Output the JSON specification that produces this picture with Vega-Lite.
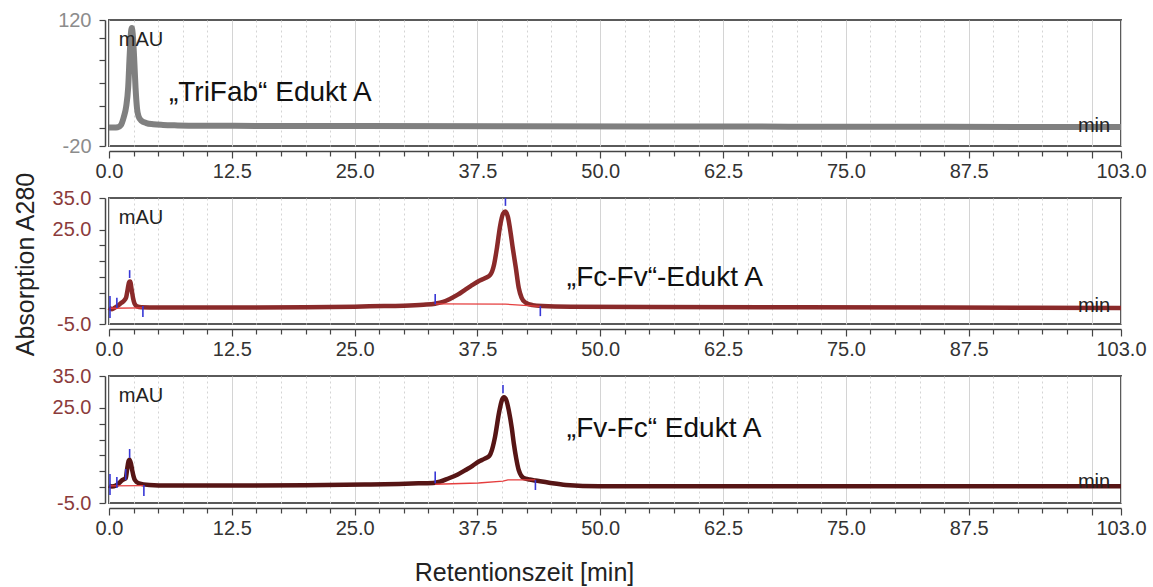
{
  "$schema": "https://vega.github.io/schema/vega-lite/v6.json",
  "background": "white",
  "padding": {"left": 12, "top": 9, "right": 5, "bottom": 0},
  "bounds": "flush",
  "spacing": 52,
  "config": {
    "view": {"stroke": "#5a5a5a", "strokeWidth": 2},
    "font": "Liberation Sans",
    "axis": {
      "labelFont": "Liberation Sans",
      "labelFontSize": 20,
      "titleFont": "Liberation Sans",
      "titleFontWeight": "normal",
      "titleFontSize": 25,
      "titleColor": "#222222",
      "domainColor": "#444444",
      "domainWidth": 1.5,
      "tickColor": "#444444",
      "tickWidth": 1.2,
      "labelFlush": false
    },
    "text": {"font": "Liberation Sans"}
  },
  "vconcat": [
    {
      "width": 1012,
      "height": 126,
      "data": {"values": [
        {"t": 0, "v": 0.5}, {"t": 0.5, "v": 0.5}, {"t": 0.9, "v": 0.8}, {"t": 1.2, "v": 3}, {"t": 1.5, "v": 12},
        {"t": 1.75, "v": 24}, {"t": 1.95, "v": 45}, {"t": 2.1, "v": 80}, {"t": 2.22, "v": 104}, {"t": 2.32, "v": 111},
        {"t": 2.42, "v": 104}, {"t": 2.55, "v": 80}, {"t": 2.7, "v": 45}, {"t": 2.85, "v": 22}, {"t": 3.0, "v": 13},
        {"t": 3.3, "v": 8}, {"t": 3.8, "v": 5.5}, {"t": 4.5, "v": 4.2}, {"t": 5.5, "v": 3.4}, {"t": 7, "v": 2.9},
        {"t": 10, "v": 2.5}, {"t": 15, "v": 2.3}, {"t": 25, "v": 2.1}, {"t": 40, "v": 1.9}, {"t": 55, "v": 1.7},
        {"t": 70, "v": 1.5}, {"t": 85, "v": 1.3}, {"t": 95, "v": 1.1}, {"t": 103, "v": 1.0}
      ]},
      "encoding": {
        "x": {
          "field": "t", "type": "quantitative",
          "scale": {"domain": [0, 103], "nice": false, "zero": false},
          "axis": {
            "title": null, "offset": 5, "format": ".1f", "labelColor": "#333333", "labelPadding": 3,
            "values": [0,2.5,5,7.5,10,12.5,15,17.5,20,22.5,25,27.5,30,32.5,35,37.5,40,42.5,45,47.5,50,52.5,55,57.5,60,62.5,65,67.5,70,72.5,75,77.5,80,82.5,85,87.5,90,92.5,95,97.5,100,103],
            "labelExpr": "(datum.value % 12.5 === 0 && datum.value < 100) || datum.value === 103 ? datum.label : ''",
            "grid": true, "gridColor": "#d4d4d4", "gridWidth": 1,
            "gridDash": {"condition": {"test": "datum.value % 12.5 === 0 || datum.value >= 100", "value": []}, "value": [2, 3]},
            "tickSize": {"condition": {"test": "datum.value % 12.5 === 0 || datum.value >= 100", "value": 7}, "value": 5}
          }
        },
        "y": {
          "field": "v", "type": "quantitative",
          "scale": {"domain": [-20, 120], "nice": false, "zero": false},
          "axis": {
            "title": null, "offset": 4, "grid": false, "tickSize": 6, "labelPadding": 8, "labelColor": "#8c8c8c",
            "values": [-20, 0, 25, 50, 75, 100, 120], "format": "d",
            "labelExpr": "datum.value === 120 ? '120' : datum.value === -20 ? '-20' : ''"
          }
        }
      },
      "layer": [
        {"mark": {"type": "line", "color": "#808080", "strokeWidth": 6, "interpolate": "monotone"}, "encoding": {}},
        {
          "data": {"values": [{"t": 1.0, "v": 91, "label": "mAU"}]},
          "mark": {"type": "text", "align": "left", "baseline": "alphabetic", "fontSize": 20, "color": "#222222"},
          "encoding": {"text": {"field": "label"}}
        },
        {
          "data": {"values": [{"t": 101.9, "v": -4.4, "label": "min"}]},
          "mark": {"type": "text", "align": "right", "baseline": "alphabetic", "fontSize": 20, "color": "#222222"},
          "encoding": {"text": {"field": "label"}}
        },
        {
          "data": {"values": [{"t": 6.1, "v": 30, "label": "„TriFab“ Edukt A"}]},
          "mark": {"type": "text", "align": "left", "baseline": "alphabetic", "fontSize": 28, "color": "#111111"},
          "encoding": {"text": {"field": "label"}}
        }
      ]
    },
    {
      "width": 1012,
      "height": 126,
      "data": {"values": [
        {"t": 0, "v": 0.2}, {"t": 0.3, "v": -0.3}, {"t": 0.6, "v": 0.2}, {"t": 0.9, "v": 0.8}, {"t": 1.2, "v": 1.6},
        {"t": 1.5, "v": 2.3}, {"t": 1.75, "v": 3.5}, {"t": 1.9, "v": 6}, {"t": 2.05, "v": 8.3}, {"t": 2.15, "v": 8.5},
        {"t": 2.3, "v": 6}, {"t": 2.45, "v": 3.2}, {"t": 2.6, "v": 1.5}, {"t": 2.85, "v": 0.6}, {"t": 3.3, "v": 0.3},
        {"t": 5, "v": 0.2}, {"t": 10, "v": 0.2}, {"t": 15, "v": 0.2}, {"t": 20, "v": 0.3}, {"t": 25, "v": 0.5},
        {"t": 28, "v": 0.7}, {"t": 30, "v": 0.8}, {"t": 32, "v": 1.1}, {"t": 33.2, "v": 1.45}, {"t": 34, "v": 2},
        {"t": 34.6, "v": 2.8}, {"t": 35.5, "v": 4.3}, {"t": 36.3, "v": 6}, {"t": 37, "v": 7.4}, {"t": 37.6, "v": 8.6},
        {"t": 38.3, "v": 9.6}, {"t": 38.8, "v": 10.6}, {"t": 39.2, "v": 14}, {"t": 39.5, "v": 19.5}, {"t": 39.8, "v": 26},
        {"t": 40.1, "v": 30}, {"t": 40.35, "v": 30.7}, {"t": 40.6, "v": 29}, {"t": 40.85, "v": 24.5}, {"t": 41.1, "v": 19},
        {"t": 41.4, "v": 13}, {"t": 41.7, "v": 6.5}, {"t": 42, "v": 3.3}, {"t": 42.4, "v": 1.8}, {"t": 43.1, "v": 1.0},
        {"t": 44.1, "v": 0.7}, {"t": 47, "v": 0.5}, {"t": 55, "v": 0.4}, {"t": 70, "v": 0.3}, {"t": 85, "v": 0.2},
        {"t": 103, "v": 0.1}
      ]},
      "encoding": {
        "x": {
          "field": "t", "type": "quantitative",
          "scale": {"domain": [0, 103], "nice": false, "zero": false},
          "axis": {
            "title": null, "offset": 5, "format": ".1f", "labelColor": "#333333", "labelPadding": 3,
            "values": [0,2.5,5,7.5,10,12.5,15,17.5,20,22.5,25,27.5,30,32.5,35,37.5,40,42.5,45,47.5,50,52.5,55,57.5,60,62.5,65,67.5,70,72.5,75,77.5,80,82.5,85,87.5,90,92.5,95,97.5,100,103],
            "labelExpr": "(datum.value % 12.5 === 0 && datum.value < 100) || datum.value === 103 ? datum.label : ''",
            "grid": true, "gridColor": "#d4d4d4", "gridWidth": 1,
            "gridDash": {"condition": {"test": "datum.value % 12.5 === 0 || datum.value >= 100", "value": []}, "value": [2, 3]},
            "tickSize": {"condition": {"test": "datum.value % 12.5 === 0 || datum.value >= 100", "value": 7}, "value": 5}
          }
        },
        "y": {
          "field": "v", "type": "quantitative",
          "scale": {"domain": [-5, 35], "nice": false, "zero": false},
          "axis": {
            "title": "Absorption A280", "titlePadding": 14, "titleY": 66,
            "offset": 4, "grid": false, "tickSize": 6, "labelPadding": 8, "labelColor": "#8b3b3b",
            "values": [-5, 0, 5, 10, 15, 20, 25, 35], "format": ".1f",
            "labelExpr": "datum.value === 35 ? '35.0' : datum.value === 25 ? '25.0' : datum.value === -5 ? '-5.0' : ''"
          }
        }
      },
      "layer": [
        {"mark": {"type": "line", "color": "#8a2a2a", "strokeWidth": 4.5, "interpolate": "monotone"}, "encoding": {}},
        {
          "data": {"values": [
            {"seg": "a", "t": 0.1, "v": 0.0}, {"seg": "a", "t": 3.45, "v": 0.1},
            {"seg": "b", "t": 33.2, "v": 1.4}, {"seg": "b", "t": 40.35, "v": 1.3}, {"seg": "b", "t": 43.9, "v": 0.6}
          ]},
          "mark": {"type": "line", "color": "#e53e3e", "strokeWidth": 1.3},
          "encoding": {"detail": {"field": "seg"}}
        },
        {
          "data": {"values": [
            {"t": 0.1, "v": 3.9, "v2": -3.1}, {"t": 0.8, "v": 3.3, "v2": 0.1}, {"t": 2.1, "v": 12.1, "v2": 9.6},
            {"t": 3.45, "v": 0.7, "v2": -2.8}, {"t": 33.2, "v": 4.5, "v2": 1.3}, {"t": 40.35, "v": 35, "v2": 32.5},
            {"t": 43.9, "v": 0.7, "v2": -2.5}
          ]},
          "mark": {"type": "rule", "color": "#3838d6", "strokeWidth": 1.6},
          "encoding": {"y2": {"field": "v2"}}
        },
        {
          "data": {"values": [{"t": 1.0, "v": 26.7, "label": "mAU"}]},
          "mark": {"type": "text", "align": "left", "baseline": "alphabetic", "fontSize": 20, "color": "#222222"},
          "encoding": {"text": {"field": "label"}}
        },
        {
          "data": {"values": [{"t": 101.9, "v": -1.2, "label": "min"}]},
          "mark": {"type": "text", "align": "right", "baseline": "alphabetic", "fontSize": 20, "color": "#222222"},
          "encoding": {"text": {"field": "label"}}
        },
        {
          "data": {"values": [{"t": 46.6, "v": 7.1, "label": "„Fc-Fv“-Edukt A"}]},
          "mark": {"type": "text", "align": "left", "baseline": "alphabetic", "fontSize": 28, "color": "#111111"},
          "encoding": {"text": {"field": "label"}}
        }
      ]
    },
    {
      "width": 1012,
      "height": 127,
      "data": {"values": [
        {"t": 0, "v": 0.5}, {"t": 0.3, "v": 0.2}, {"t": 0.7, "v": 0.5}, {"t": 1.0, "v": 1.2}, {"t": 1.35, "v": 2.2},
        {"t": 1.7, "v": 2.8}, {"t": 1.86, "v": 6}, {"t": 2.0, "v": 8.3}, {"t": 2.1, "v": 8.6}, {"t": 2.25, "v": 7.2},
        {"t": 2.37, "v": 5.2}, {"t": 2.5, "v": 3.4}, {"t": 2.64, "v": 2.2}, {"t": 3.05, "v": 1.2}, {"t": 4.1, "v": 0.7},
        {"t": 6, "v": 0.5}, {"t": 12, "v": 0.5}, {"t": 20, "v": 0.6}, {"t": 26, "v": 0.8}, {"t": 29.5, "v": 1.0},
        {"t": 31.5, "v": 1.2}, {"t": 33.2, "v": 1.4}, {"t": 34.6, "v": 2.8}, {"t": 35.5, "v": 4}, {"t": 36.3, "v": 5.4},
        {"t": 37, "v": 6.7}, {"t": 37.6, "v": 8.0}, {"t": 38.2, "v": 8.9}, {"t": 38.7, "v": 9.8}, {"t": 39.0, "v": 12},
        {"t": 39.3, "v": 16}, {"t": 39.7, "v": 23.5}, {"t": 40.0, "v": 27.5}, {"t": 40.2, "v": 28.3}, {"t": 40.45, "v": 27.3},
        {"t": 40.7, "v": 24}, {"t": 41.0, "v": 18.5}, {"t": 41.2, "v": 13.8}, {"t": 41.45, "v": 9}, {"t": 41.7, "v": 5.4},
        {"t": 42.2, "v": 2.9}, {"t": 42.8, "v": 2.4}, {"t": 43.4, "v": 2.1}, {"t": 44.8, "v": 1.4}, {"t": 46.5, "v": 0.7},
        {"t": 49.9, "v": 0.3}, {"t": 55, "v": 0.3}, {"t": 70, "v": 0.3}, {"t": 85, "v": 0.3}, {"t": 103, "v": 0.3}
      ]},
      "encoding": {
        "x": {
          "field": "t", "type": "quantitative",
          "scale": {"domain": [0, 103], "nice": false, "zero": false},
          "axis": {
            "title": "Retentionszeit [min]", "titleX": 415, "titleY": 72, "titleBaseline": "alphabetic", "titleAlign": "center",
            "offset": 5, "format": ".1f", "labelColor": "#333333", "labelPadding": 3,
            "values": [0,2.5,5,7.5,10,12.5,15,17.5,20,22.5,25,27.5,30,32.5,35,37.5,40,42.5,45,47.5,50,52.5,55,57.5,60,62.5,65,67.5,70,72.5,75,77.5,80,82.5,85,87.5,90,92.5,95,97.5,100,103],
            "labelExpr": "(datum.value % 12.5 === 0 && datum.value < 100) || datum.value === 103 ? datum.label : ''",
            "grid": true, "gridColor": "#d4d4d4", "gridWidth": 1,
            "gridDash": {"condition": {"test": "datum.value % 12.5 === 0 || datum.value >= 100", "value": []}, "value": [2, 3]},
            "tickSize": {"condition": {"test": "datum.value % 12.5 === 0 || datum.value >= 100", "value": 7}, "value": 5}
          }
        },
        "y": {
          "field": "v", "type": "quantitative",
          "scale": {"domain": [-5, 35], "nice": false, "zero": false},
          "axis": {
            "title": null, "offset": 4, "grid": false, "tickSize": 6, "labelPadding": 8, "labelColor": "#8b3b3b",
            "values": [-5, 0, 5, 10, 15, 20, 25, 35], "format": ".1f",
            "labelExpr": "datum.value === 35 ? '35.0' : datum.value === 25 ? '25.0' : datum.value === -5 ? '-5.0' : ''"
          }
        }
      },
      "layer": [
        {"mark": {"type": "line", "color": "#561515", "strokeWidth": 4.5, "interpolate": "monotone"}, "encoding": {}},
        {
          "data": {"values": [
            {"seg": "a", "t": 0.1, "v": 0.4}, {"seg": "a", "t": 3.55, "v": 0.5},
            {"seg": "b", "t": 33.2, "v": 0.9}, {"seg": "b", "t": 37.6, "v": 1.3}, {"seg": "b", "t": 40.1, "v": 1.9},
            {"seg": "b", "t": 40.6, "v": 2.3}, {"seg": "b", "t": 43.4, "v": 2.3}
          ]},
          "mark": {"type": "line", "color": "#e53e3e", "strokeWidth": 1.3},
          "encoding": {"detail": {"field": "seg"}}
        },
        {
          "data": {"values": [
            {"t": 0.1, "v": 4.1, "v2": -2.5}, {"t": 0.8, "v": 3.2, "v2": -0.3}, {"t": 1.7, "v": 5.7, "v2": 2.2},
            {"t": 2.1, "v": 12, "v2": 9.2}, {"t": 3.55, "v": 0.7, "v2": -2.8}, {"t": 33.2, "v": 4.9, "v2": 1.2},
            {"t": 40.1, "v": 32.2, "v2": 29.6}, {"t": 43.4, "v": 2.2, "v2": -0.9}
          ]},
          "mark": {"type": "rule", "color": "#3838d6", "strokeWidth": 1.6},
          "encoding": {"y2": {"field": "v2"}}
        },
        {
          "data": {"values": [{"t": 1.0, "v": 26.8, "label": "mAU"}]},
          "mark": {"type": "text", "align": "left", "baseline": "alphabetic", "fontSize": 20, "color": "#222222"},
          "encoding": {"text": {"field": "label"}}
        },
        {
          "data": {"values": [{"t": 101.9, "v": -0.3, "label": "min"}]},
          "mark": {"type": "text", "align": "right", "baseline": "alphabetic", "fontSize": 20, "color": "#222222"},
          "encoding": {"text": {"field": "label"}}
        },
        {
          "data": {"values": [{"t": 46.6, "v": 15.9, "label": "„Fv-Fc“ Edukt A"}]},
          "mark": {"type": "text", "align": "left", "baseline": "alphabetic", "fontSize": 28, "color": "#111111"},
          "encoding": {"text": {"field": "label"}}
        }
      ]
    }
  ]
}
